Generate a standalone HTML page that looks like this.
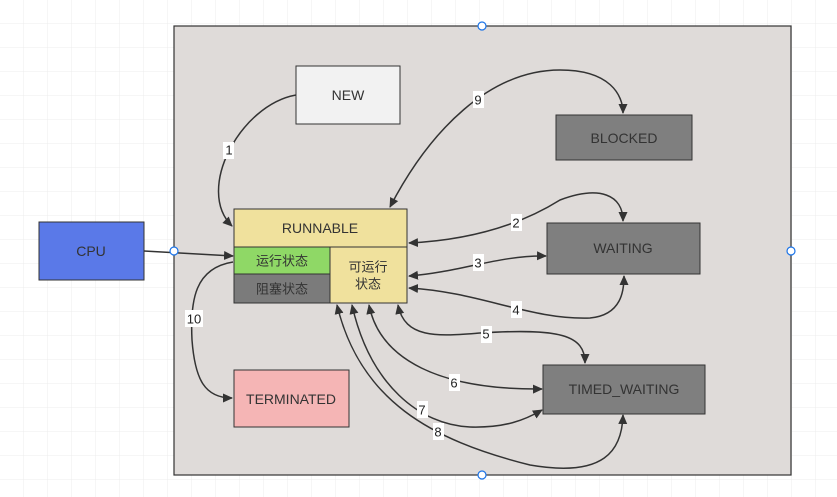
<!DOCTYPE html>
<html><head><meta charset="utf-8"><style>
html,body{margin:0;padding:0;width:837px;height:497px;overflow:hidden;background:#fff}
svg{display:block}
text{font-family:"Liberation Sans","Noto Sans CJK SC",sans-serif;font-size:14px;fill:#333;text-anchor:middle;dominant-baseline:central}
.lb{font-size:13px;fill:#222}
</style></head><body>
<svg width="837" height="497" viewBox="0 0 837 497">
<defs>
<pattern id="g" width="24" height="24" patternUnits="userSpaceOnUse"><path d="M24 0V24H0" fill="none" stroke="#ececec" stroke-width="1"/></pattern>
<marker id="a" viewBox="0 0 10 10" refX="9" refY="5" markerWidth="10" markerHeight="10" orient="auto-start-reverse" markerUnits="userSpaceOnUse"><path d="M0,0.5 L10,5 L0,9.5 Z" fill="#333"/></marker>
</defs>
<rect width="837" height="497" fill="url(#g)"/>
<rect x="174" y="26" width="617" height="449" fill="#dfdbd9" stroke="#333" stroke-width="1.2"/>
<g fill="none" stroke="#333" stroke-width="1.5">
<path d="M296,95 C240,105 195,190 232,226" marker-end="url(#a)"/>
<path d="M144,251 L233,256" marker-end="url(#a)"/>
<path d="M390,207 C430,130 490,70 560,70 C610,70 623,95 623,113" marker-start="url(#a)" marker-end="url(#a)"/>
<path d="M409,243 C470,240 520,225 560,200 C600,185 623,195 623,221" marker-start="url(#a)" marker-end="url(#a)"/>
<path d="M409,276 C460,272 500,255 546,256" marker-start="url(#a)" marker-end="url(#a)"/>
<path d="M409,288 C480,292 530,320 590,318 C622,315 624,290 624,276" marker-start="url(#a)" marker-end="url(#a)"/>
<path d="M398,305 C405,340 440,336 480,333 C560,328 585,335 585,363" marker-start="url(#a)" marker-end="url(#a)"/>
<path d="M369,305 C380,360 440,390 542,389" marker-start="url(#a)" marker-end="url(#a)"/>
<path d="M352,305 C370,385 420,425 470,427 C505,428 525,420 542,410" marker-start="url(#a)" marker-end="url(#a)"/>
<path d="M337,305 C360,400 430,440 530,465 C605,478 622,450 623,415" marker-start="url(#a)" marker-end="url(#a)"/>
<path d="M233,262 C195,268 190,300 192,340 C195,380 205,398 232,398" marker-end="url(#a)"/>
</g>
<rect x="296" y="66" width="104" height="58" fill="#f2f2f2" stroke="#333"/><text x="348" y="95">NEW</text>
<rect x="556" y="115" width="136" height="45" fill="#7f7f7f" stroke="#333"/><text x="624" y="138">BLOCKED</text>
<rect x="547" y="223" width="153" height="51" fill="#7f7f7f" stroke="#333"/><text x="623" y="248">WAITING</text>
<rect x="543" y="365" width="162" height="49" fill="#7f7f7f" stroke="#333"/><text x="624" y="389">TIMED_WAITING</text>
<rect x="234" y="370" width="115" height="57" fill="#f5b5b5" stroke="#333"/><text x="291" y="399">TERMINATED</text>
<rect x="39" y="222" width="105" height="58" fill="#5a79e8" stroke="#333"/><text x="91" y="251">CPU</text>
<rect x="234" y="209" width="173" height="38" fill="#f0e19d" stroke="#333"/><text x="320" y="228">RUNNABLE</text>
<rect x="234" y="247" width="96" height="27" fill="#8fd866" stroke="#333"/><text x="282" y="261" style="font-size:13px">运行状态</text>
<rect x="234" y="274" width="96" height="29" fill="#7b7b7b" stroke="#333"/><text x="282" y="289" style="font-size:13px">阻塞状态</text>
<rect x="330" y="247" width="77" height="56" fill="#f0e19d" stroke="#333"/><text x="368" y="267" style="font-size:13px">可运行</text><text x="368" y="284" style="font-size:13px">状态</text>
<g>
<rect x="223" y="142" width="11" height="17" fill="#fff"/><text class="lb" x="229" y="150">1</text>
<rect x="473" y="91" width="11" height="17" fill="#fff"/><text class="lb" x="478" y="100">9</text>
<rect x="511" y="214" width="11" height="17" fill="#fff"/><text class="lb" x="516" y="223">2</text>
<rect x="473" y="254" width="11" height="17" fill="#fff"/><text class="lb" x="478" y="263">3</text>
<rect x="511" y="301" width="11" height="17" fill="#fff"/><text class="lb" x="516" y="310">4</text>
<rect x="481" y="326" width="11" height="17" fill="#fff"/><text class="lb" x="486" y="334">5</text>
<rect x="449" y="374" width="11" height="17" fill="#fff"/><text class="lb" x="454" y="383">6</text>
<rect x="417" y="401" width="11" height="17" fill="#fff"/><text class="lb" x="422" y="410">7</text>
<rect x="433" y="423" width="11" height="17" fill="#fff"/><text class="lb" x="438" y="432">8</text>
<rect x="185" y="310" width="18" height="17" fill="#fff"/><text class="lb" x="194" y="319">10</text>
</g>
<g fill="#fff" stroke="#1a73e8" stroke-width="1.2">
<circle cx="482" cy="26" r="4"/><circle cx="791" cy="251" r="4"/><circle cx="482" cy="475" r="4"/><circle cx="174" cy="251" r="4"/>
</g>
</svg>
</body></html>
